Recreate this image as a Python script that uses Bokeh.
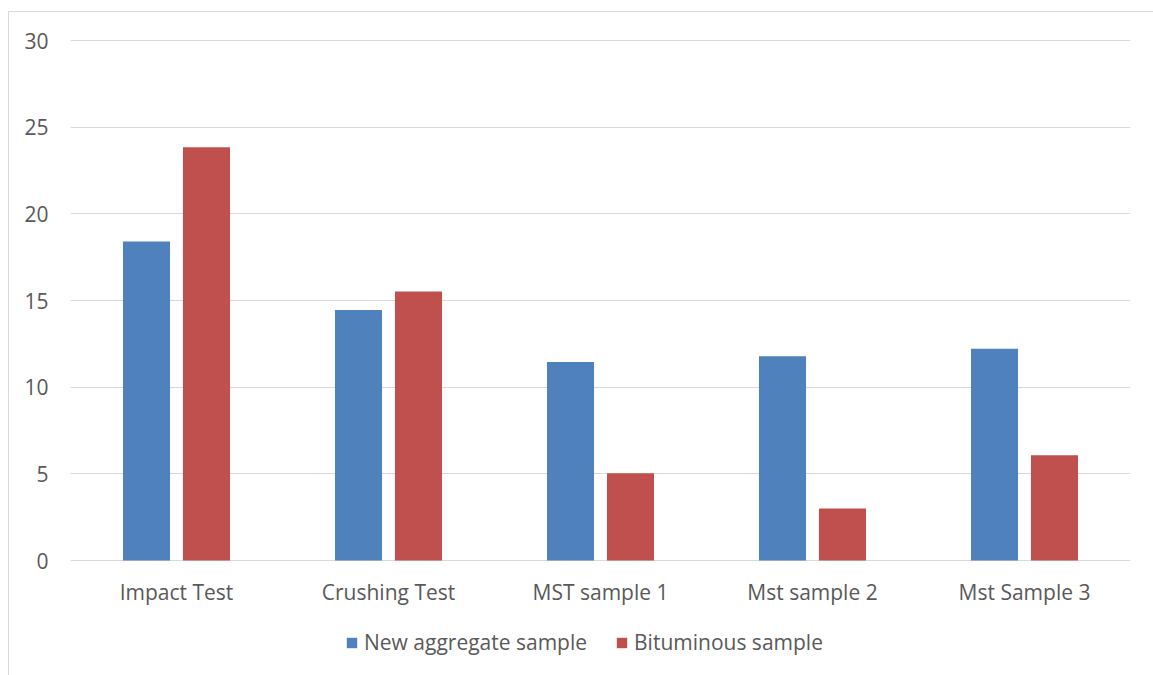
from bokeh.plotting import figure
from bokeh.models import ColumnDataSource, Legend, LegendItem, FactorRange
from bokeh.core.properties import value
from bokeh.transform import dodge
from bokeh.embed import file_html
from bokeh.resources import INLINE

categories = ["Impact Test", "Crushing Test", "MST sample 1", "Mst sample 2", "Mst Sample 3"]
new_aggregate = [18.4, 14.45, 11.45, 11.78, 12.22]
bituminous = [23.85, 15.52, 5.03, 3.0, 6.07]
series_names = ["New aggregate sample", "Bituminous sample"]
colors = ["#4F81BD", "#C0504D"]
y_ticks = [0, 5, 10, 15, 20, 25, 30]

FONT = "Open Sans"
TXT = "#595959"
FS = "21px"

PX_PER_UNIT = 520 / 30.0
Y_TOP = 30.06
Y_BOTTOM = -118 / PX_PER_UNIT          # room under the baseline for labels and legend
LABEL_Y = -31 / PX_PER_UNIT

src = ColumnDataSource(dict(cat=categories, a=new_aggregate, b=bituminous,
                            ly=[LABEL_Y] * len(categories)))

p = figure(x_range=FactorRange(*categories, range_padding=0), y_range=(Y_BOTTOM, Y_TOP),
           width=1150, height=675, output_backend="svg", toolbar_location=None,
           min_border_left=61, min_border_right=29, min_border_top=27, min_border_bottom=0)
p.frame_width = 1060
p.frame_height = round((Y_TOP - Y_BOTTOM) * PX_PER_UNIT)
p.outline_line_color = None
p.styles = {"border": "1px solid #d9d9d9", "margin-left": "8px", "margin-top": "11px"}

r1 = p.vbar(x=dodge("cat", -0.1415, range=p.x_range), top="a", width=0.222, source=src,
            fill_color=colors[0], line_color=None)
r2 = p.vbar(x=dodge("cat", 0.1415, range=p.x_range), top="b", width=0.222, source=src,
            fill_color=colors[1], line_color=None)

# category labels under the baseline
p.text(x="cat", y="ly", text="cat", source=src, text_font=value(FONT),
       text_font_size=FS, text_color=TXT, text_align="center", text_baseline="middle")

p.xaxis.visible = False
p.xgrid.grid_line_color = None
p.ygrid.grid_line_color = "#d9d9d9"
p.ygrid.grid_line_width = 1
p.yaxis.ticker = y_ticks
p.yaxis.axis_line_color = None
p.yaxis.major_tick_line_color = None
p.yaxis.minor_tick_line_color = None
p.yaxis.major_label_standoff = 16
p.yaxis.major_label_text_font = FONT
p.yaxis.major_label_text_font_size = FS
p.yaxis.major_label_text_color = TXT

legend = Legend(items=[LegendItem(label=series_names[0], renderers=[r1]),
                       LegendItem(label=series_names[1], renderers=[r2])],
                orientation="horizontal", location=(275, 22),
                label_text_font=FONT, label_text_font_size=FS, label_text_color=TXT,
                glyph_width=13, glyph_height=13, spacing=28, label_standoff=6,
                border_line_color=None, background_fill_alpha=0, margin=0, padding=0)
p.add_layout(legend, "center")

open("out.html", "w").write(file_html(p, INLINE))
